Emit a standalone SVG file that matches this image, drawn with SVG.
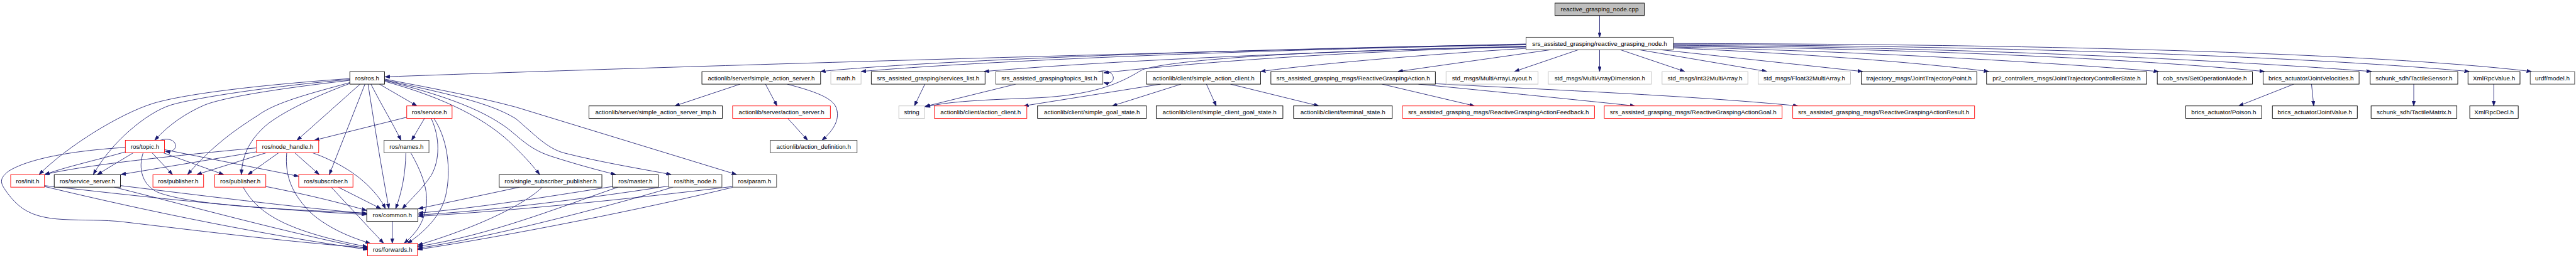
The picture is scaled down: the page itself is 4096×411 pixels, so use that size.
<svg xmlns="http://www.w3.org/2000/svg" width="4096" height="411" viewBox="0 0 4096 411">
<style>
rect{fill:#fff;stroke:#000;stroke-width:1.3}
.red rect{stroke:#ff0000}
.dark rect{stroke:#404040}
.lite rect{stroke:#bfbfbf}
.cpp rect{fill:#bfbfbf}
text{font-family:"Liberation Sans",Arial,sans-serif;font-size:14px;text-anchor:middle;fill:#000}
#edges path{fill:none;stroke:#191970;stroke-width:1.2;marker-end:url(#a)}
</style>
<defs>
<marker id="a" markerUnits="userSpaceOnUse" markerWidth="11" markerHeight="8" viewBox="0 0 11 8" refX="11" refY="4" orient="auto"><path d="M0,0 L11,4 L0,8 z" fill="#191970" stroke="#191970" stroke-width="0.8"/></marker>
</defs>
<rect x="0" y="0" width="4096" height="411" style="fill:#fff;stroke:none"/>
<g transform="scale(0.70682,0.7074)">
<g id="edges">
<path d="M3598.5,35 L3598.5,84"/>
<path d="M3433,99 C2500,121 1500,150 866,173"/>
<path d="M3433,100 C2800,110 2100,135 1846,161"/>
<path d="M3433,101 C2800,112 2200,138 1937,161"/>
<path d="M3433,104 C2900,118 2450,140 2214,161"/>
<path d="M3433,105 C3000,117 2700,140 2483,164"/>
<path d="M3433,106 C3050,110 2650,130 2570,157 C2530,180 2480,212 2340,220 C2250,224 2140,226 2082,241"/>
<path d="M3433,109 C3200,123 2950,145 2836,161"/>
<path d="M3489,112 L3145,161"/>
<path d="M3551,112 L3407,161"/>
<path d="M3598.5,112 L3598.5,161"/>
<path d="M3645,112 L3790,161"/>
<path d="M3687,112 L3975,161"/>
<path d="M3735,112 L4190,161"/>
<path d="M3764,108 C4000,118 4300,138 4474,161"/>
<path d="M3764,106 C4200,116 4600,140 4856,161"/>
<path d="M3764,104 C4300,110 4800,132 5094,161"/>
<path d="M3764,102 C4400,106 5000,135 5335,161"/>
<path d="M3764,100 C4500,103 5200,128 5555,161"/>
<path d="M3764,98 C4600,99 5350,120 5695,161"/>
<path d="M2470,161.5 C2512,150 2515,195 2483,186"/>
<path d="M787,177 C600,190 420,210 344,233 C270,256 150,330 88,393"/>
<path d="M787,179 C600,195 430,222 383,237 C330,254 250,320 210,393"/>
<path d="M787,181 C620,200 500,220 459,237 C420,254 380,280 348,316"/>
<path d="M787,186 C700,210 620,230 580,260 C500,310 460,350 422,393"/>
<path d="M787,188 C700,220 620,260 590,290 C560,320 545,350 543,393"/>
<path d="M810,189.5 L668,316"/>
<path d="M821,189.5 L741,393"/>
<path d="M828,189.5 C845,300 862,400 875,470"/>
<path d="M834.5,189.5 C860,240 885,280 902,316"/>
<path d="M853.6,189.5 L938,238.5"/>
<path d="M865,183 C1000,220 1100,270 1160,333 C1185,358 1200,375 1214,393"/>
<path d="M865,181 C1000,215 1100,250 1160,304 C1190,330 1210,342 1240,352 C1290,368 1340,382 1385,393"/>
<path d="M865,180 C1000,210 1100,230 1160,267 C1200,300 1230,335 1271,345 C1350,365 1440,380 1510,393"/>
<path d="M865,178 C950,195 1050,212 1160,241 L1657,393"/>
<path d="M915,264 L707,316"/>
<path d="M955,266.5 L926,316"/>
<path d="M970,266.5 C990,310 990,360 970,395 C950,425 925,448 905,470"/>
<path d="M976,266.5 C1012,320 1015,400 1000,450 C985,495 950,525 917,548"/>
<path d="M913,344 C912,390 905,430 890,470"/>
<path d="M924,344 C950,390 965,430 958,470 C950,510 930,530 909,548"/>
<path d="M577,333 C400,350 200,370 100,393"/>
<path d="M577,342 L272,393"/>
<path d="M599,344 L443,393"/>
<path d="M627,344 L558,393"/>
<path d="M663,344 L718,393"/>
<path d="M703,344 C760,365 800,390 830,420 C850,440 860,455 867,470"/>
<path d="M645,344 C640,400 660,440 700,480 C740,515 790,535 833,548"/>
<path d="M360,316 C400,303 408,345 372,341"/>
<path d="M282,342 C220,360 150,375 101,393"/>
<path d="M300,344 L219,393"/>
<path d="M342,344 L388,393"/>
<path d="M367,344 L503,393"/>
<path d="M370,337 L672,397"/>
<path d="M322,344 C310,380 320,420 360,435 C450,465 650,472 825,480"/>
<path d="M282,332 C150,340 60,360 20,385 C0,400 0,410 10,425 C40,470 70,490 140,494 C190,497 230,494 280,500 C450,520 650,545 827,558"/>
<path d="M100,418 C300,440 550,470 825,483"/>
<path d="M100,420 C350,480 600,530 827,562"/>
<path d="M271,418 C450,440 650,465 825,481"/>
<path d="M257,421.5 C450,470 650,525 827,560"/>
<path d="M598,420 C700,440 770,458 825,474"/>
<path d="M547,421.5 C580,480 640,520 827,556"/>
<path d="M761,421.5 L857,470"/>
<path d="M745,421.5 L863,548"/>
<path d="M882.5,498.5 L882.5,548"/>
<path d="M1169,421.5 L941,470"/>
<path d="M1220,421.5 C1180,460 1080,510 940,552"/>
<path d="M1378,420 C1250,440 1100,465 941,480"/>
<path d="M1390,421.5 C1250,470 1100,530 940,555"/>
<path d="M1504,419 C1300,450 1100,475 941,484"/>
<path d="M1514,421.5 C1350,470 1100,535 940,559"/>
<path d="M1648,420 C1400,450 1150,475 941,487"/>
<path d="M1648,422 C1450,470 1150,530 940,562"/>
<path d="M1665,189.5 L1518,238.5"/>
<path d="M1722,189.5 L1748,238.5"/>
<path d="M1771,189.5 C1830,205 1875,220 1882,245 C1890,272 1872,296 1849,316"/>
<path d="M1772,266.5 L1817,316"/>
<path d="M2080.6,189.5 L2057,238.5"/>
<path d="M2285,189.5 L2080,240"/>
<path d="M2611,189.5 L2303,238.5"/>
<path d="M2657,189.5 L2502,238.5"/>
<path d="M2714,189.5 L2736,238.5"/>
<path d="M2768,189.5 L2967,238.5"/>
<path d="M3109,189.5 L3317,238.5"/>
<path d="M3191,189.5 C3350,205 3500,220 3678,238.5"/>
<path d="M3229,188.5 C3500,203 3800,215 4045,238.5"/>
<path d="M5160,189.5 L5036,238.5"/>
<path d="M5200,189.5 L5205,238.5"/>
<path d="M5430,189.5 L5430,238.5"/>
<path d="M5610,189.5 L5610,238.5"/>
</g>
<g id="n_cpp" class="cpp"><rect x="3498" y="7" width="201" height="28"/><text x="3598.5" y="26">reactive_grasping_node.cpp</text></g>
<g id="n_nodeh" class="dark"><rect x="3433" y="84" width="331" height="28"/><text x="3598.5" y="103">srs_assisted_grasping/reactive_grasping_node.h</text></g>
<g id="n_rosh"><rect x="787" y="161.5" width="78" height="28"/><text x="826" y="180.5">ros/ros.h</text></g>
<g id="n_sas"><rect x="1579" y="161.5" width="267" height="28"/><text x="1712.5" y="180.5">actionlib/server/simple_action_server.h</text></g>
<g id="n_math" class="lite"><rect x="1869" y="161.5" width="68" height="28"/><text x="1903" y="180.5">math.h</text></g>
<g id="n_svcl"><rect x="1960" y="161.5" width="256" height="28"/><text x="2088" y="180.5">srs_assisted_grasping/services_list.h</text></g>
<g id="n_topl" class="dark"><rect x="2240" y="161.5" width="241" height="28"/><text x="2360.5" y="180.5">srs_assisted_grasping/topics_list.h</text></g>
<g id="n_sac"><rect x="2579" y="161.5" width="257" height="28"/><text x="2707.5" y="180.5">actionlib/client/simple_action_client.h</text></g>
<g id="n_rga"><rect x="2859" y="161.5" width="370" height="28"/><text x="3044" y="180.5">srs_assisted_grasping_msgs/ReactiveGraspingAction.h</text></g>
<g id="n_mal" class="lite"><rect x="3253" y="161.5" width="207" height="28"/><text x="3356.5" y="180.5">std_msgs/MultiArrayLayout.h</text></g>
<g id="n_mad" class="lite"><rect x="3483" y="161.5" width="232" height="28"/><text x="3599" y="180.5">std_msgs/MultiArrayDimension.h</text></g>
<g id="n_i32" class="lite"><rect x="3739" y="161.5" width="193" height="28"/><text x="3835.5" y="180.5">std_msgs/Int32MultiArray.h</text></g>
<g id="n_f32" class="lite"><rect x="3955" y="161.5" width="208" height="28"/><text x="4059" y="180.5">std_msgs/Float32MultiArray.h</text></g>
<g id="n_jtp"><rect x="4187" y="161.5" width="260" height="28"/><text x="4317" y="180.5">trajectory_msgs/JointTrajectoryPoint.h</text></g>
<g id="n_jtcs"><rect x="4469" y="161.5" width="360" height="28"/><text x="4649" y="180.5">pr2_controllers_msgs/JointTrajectoryControllerState.h</text></g>
<g id="n_som"><rect x="4853" y="161.5" width="214" height="28"/><text x="4960" y="180.5">cob_srvs/SetOperationMode.h</text></g>
<g id="n_jv"><rect x="5091" y="161.5" width="216" height="28"/><text x="5199" y="180.5">brics_actuator/JointVelocities.h</text></g>
<g id="n_ts"><rect x="5332" y="161.5" width="197" height="28"/><text x="5430.5" y="180.5">schunk_sdh/TactileSensor.h</text></g>
<g id="n_xrv"><rect x="5552" y="161.5" width="117" height="28"/><text x="5610.5" y="180.5">XmlRpcValue.h</text></g>
<g id="n_urdf" class="dark"><rect x="5692" y="161.5" width="100" height="28"/><text x="5742" y="180.5">urdf/model.h</text></g>
<g id="n_service" class="red"><rect x="915" y="238.5" width="102" height="28"/><text x="966" y="257.5">ros/service.h</text></g>
<g id="n_sasi"><rect x="1325" y="238.5" width="300" height="28"/><text x="1475" y="257.5">actionlib/server/simple_action_server_imp.h</text></g>
<g id="n_as" class="red"><rect x="1648" y="238.5" width="220" height="28"/><text x="1758" y="257.5">actionlib/server/action_server.h</text></g>
<g id="n_string" class="lite"><rect x="2022" y="238.5" width="58" height="28"/><text x="2051" y="257.5">string</text></g>
<g id="n_ac" class="red"><rect x="2102" y="238.5" width="208" height="28"/><text x="2206" y="257.5">actionlib/client/action_client.h</text></g>
<g id="n_sgs"><rect x="2334" y="238.5" width="245" height="28"/><text x="2456.5" y="257.5">actionlib/client/simple_goal_state.h</text></g>
<g id="n_scgs"><rect x="2601" y="238.5" width="285" height="28"/><text x="2743.5" y="257.5">actionlib/client/simple_client_goal_state.h</text></g>
<g id="n_term"><rect x="2910" y="238.5" width="222" height="28"/><text x="3021" y="257.5">actionlib/client/terminal_state.h</text></g>
<g id="n_fb" class="red"><rect x="3155" y="238.5" width="432" height="28"/><text x="3371" y="257.5">srs_assisted_grasping_msgs/ReactiveGraspingActionFeedback.h</text></g>
<g id="n_goal" class="red"><rect x="3609" y="238.5" width="400" height="28"/><text x="3809" y="257.5">srs_assisted_grasping_msgs/ReactiveGraspingActionGoal.h</text></g>
<g id="n_result" class="red"><rect x="4033" y="238.5" width="409" height="28"/><text x="4237.5" y="257.5">srs_assisted_grasping_msgs/ReactiveGraspingActionResult.h</text></g>
<g id="n_poison"><rect x="4917" y="238.5" width="171" height="28"/><text x="5002.5" y="257.5">brics_actuator/Poison.h</text></g>
<g id="n_jval"><rect x="5112" y="238.5" width="191" height="28"/><text x="5207.5" y="257.5">brics_actuator/JointValue.h</text></g>
<g id="n_tm"><rect x="5334" y="238.5" width="193" height="28"/><text x="5430.5" y="257.5">schunk_sdh/TactileMatrix.h</text></g>
<g id="n_xrd"><rect x="5556" y="238.5" width="109" height="28"/><text x="5610.5" y="257.5">XmlRpcDecl.h</text></g>
<g id="n_topic" class="red"><rect x="282" y="316" width="88" height="28"/><text x="326" y="335">ros/topic.h</text></g>
<g id="n_nh" class="red"><rect x="577" y="316" width="140" height="28"/><text x="647" y="335">ros/node_handle.h</text></g>
<g id="n_names" class="dark"><rect x="864" y="316" width="101" height="28"/><text x="914.5" y="335">ros/names.h</text></g>
<g id="n_ad" class="dark"><rect x="1733" y="316" width="195" height="28"/><text x="1830.5" y="335">actionlib/action_definition.h</text></g>
<g id="n_init" class="red"><rect x="24" y="393.5" width="76" height="28"/><text x="62" y="412.5">ros/init.h</text></g>
<g id="n_ss"><rect x="122" y="393.5" width="149" height="28"/><text x="196.5" y="412.5">ros/service_server.h</text></g>
<g id="n_pub1" class="red"><rect x="344" y="393.5" width="114" height="28"/><text x="401" y="412.5">ros/publisher.h</text></g>
<g id="n_pub2" class="red"><rect x="483" y="393.5" width="115" height="28"/><text x="540.5" y="412.5">ros/publisher.h</text></g>
<g id="n_sub" class="red"><rect x="672" y="393.5" width="122" height="28"/><text x="733" y="412.5">ros/subscriber.h</text></g>
<g id="n_ssp"><rect x="1123" y="393.5" width="231" height="28"/><text x="1238.5" y="412.5">ros/single_subscriber_publisher.h</text></g>
<g id="n_master"><rect x="1378" y="393.5" width="103" height="28"/><text x="1429.5" y="412.5">ros/master.h</text></g>
<g id="n_thisnode" class="dark"><rect x="1504" y="393.5" width="120" height="28"/><text x="1564" y="412.5">ros/this_node.h</text></g>
<g id="n_param" class="dark"><rect x="1648" y="393.5" width="99" height="28"/><text x="1697.5" y="412.5">ros/param.h</text></g>
<g id="n_common"><rect x="825" y="470.5" width="115" height="28"/><text x="882.5" y="489.5">ros/common.h</text></g>
<g id="n_fwd" class="red"><rect x="827" y="548" width="112" height="28"/><text x="883" y="567">ros/forwards.h</text></g>
</g>
</svg>
